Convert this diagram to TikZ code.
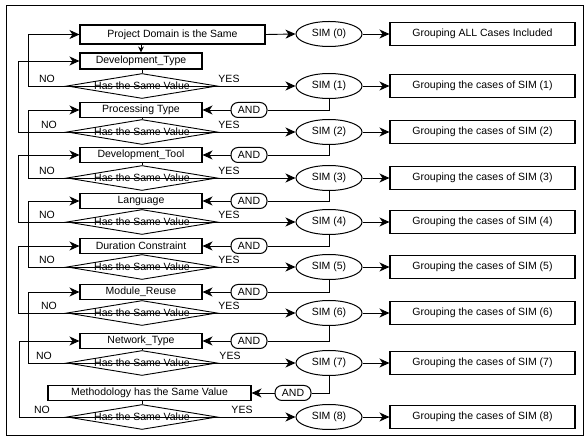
\documentclass[tikz,border=0pt]{standalone}
\usepackage{fontspec}
\setmainfont{Liberation Sans}
\usetikzlibrary{shapes.geometric,arrows.meta}
\begin{document}
\begin{tikzpicture}[x=1pt,y=-1pt,
  every node/.style={font=\fontsize{10.5}{12}\selectfont, inner sep=0pt},
  conn/.style={line width=0.9pt},
  arr/.style={conn,-{Stealth[length=10pt,width=9pt,inset=3pt]}},
  smallarr/.style={conn,-{Stealth[length=6pt,width=6pt,inset=2pt]}},
  attr/.style={draw,line width=1.1pt,minimum width=122pt,minimum height=15pt},
  test/.style={draw,diamond,line width=0.9pt,minimum width=150pt,minimum height=25pt,aspect=6},
  sim/.style={draw,ellipse,line width=1pt,minimum width=66pt,minimum height=25pt},
  group/.style={draw,line width=1.1pt,minimum width=185pt,minimum height=23pt},
  andop/.style={draw,rounded corners=7pt,line width=1pt,minimum width=36pt,minimum height=15pt}
]
\useasboundingbox (0,0) rectangle (587,443);
\draw[line width=1pt] (6,6) rectangle (583,436);

% attribute boxes
\node[attr, minimum width=185pt, minimum height=19pt] (pd) at (172.5,34.5) {Project Domain is the Same};
\node[attr, minimum height=16pt] (b1) at (141,61) {Development\_Type};
\node[attr] (b2) at (141,110) {Processing Type};
\node[attr] (b3) at (141,155) {Development\_Tool};
\node[attr] (b4) at (141,201) {Language};
\node[attr] (b5) at (141,246) {Duration Constraint};
\node[attr] (b6) at (141,292) {Module\_Reuse};
\node[attr] (b7) at (141,341) {Network\_Type};
\node[attr, minimum width=203pt] (b8) at (149.5,393) {Methodology has the Same Value};

% first similarity level
\node[sim] (s0) at (329,34) {SIM (0)};
\node[group] (g0) at (482.5,34) {Grouping ALL Cases Included};
\draw[arr] (pd.east) -- (s0.west);
\draw[arr] (s0.east) -- (g0.west);
\draw[smallarr] (b1.north |- pd.south) -- (b1.north);

% tests, similarity levels and groupings
\foreach \i/\y/\nx/\yx in {1/86/47/229,2/132/49/229,3/178/47/229,4/222/47/229,
                          5/267/47/229,6/313/49/229,7/363/44/230,8/417/42/242} {
  \node[test] (d\i) at (142,\y) {\makebox[0pt]{Has the Same Value}};
  \draw[line width=0.6pt] (d\i.west) -- (d\i.east);
  \node[sim] (s\i) at (329,\y) {SIM (\i)};
  \node[group] (g\i) at (482.5,\y) {Grouping the cases of SIM (\i)};
  \draw[arr] (d\i.east) -- (s\i.west);
  \draw[arr] (s\i.east) -- (g\i.west);
  \draw[conn] (d\i.north |- b\i.south) -- (d\i.north);
  \node (no\i) at (\nx,\y-7) {NO};
  \node (yes\i) at (\yx,\y-7) {YES};
}

% AND joins
\foreach \i/\p/\y in {2/1/110,3/2/155,4/3/201,5/4/246,6/5/292,7/6/341} {
  \node[andop] (a\i) at (249,\y) {AND};
  \draw[arr] (a\i.west) -- (b\i.east);
  \draw[conn] (a\i.east) -| (s\p.south);
}
\node[andop] (a8) at (293,393) {AND};
\draw[arr] (a8.west) -- (b8.east);
\draw[conn] (a8.east) -| (s7.south);

% NO branches
\foreach \i/\p/\dx in {1/pd/38,2/b1/48,3/b2/38,4/b3/48,5/b4/38,6/b5/48,7/b6/38,8/b7/47} {
  \draw[arr] (d\i.west) -- ++(-\dx,0) |- (\p.west);
}
\end{tikzpicture}
\end{document}
